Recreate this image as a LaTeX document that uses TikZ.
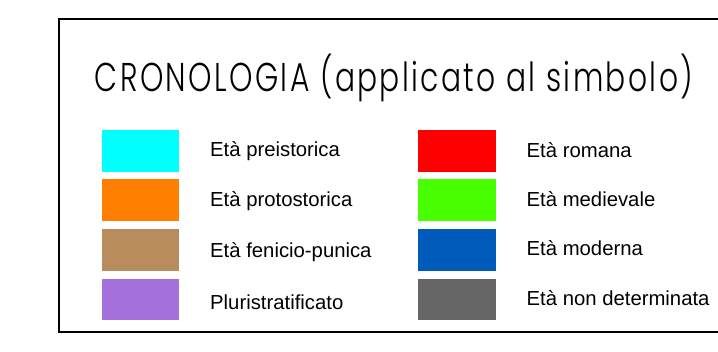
\documentclass[tikz,border=0pt]{standalone}
\usepackage{fontspec}
\setmainfont{Liberation Sans}
\newfontfamily\titlefont{Poppins Light}[LetterSpace=8]
\definecolor{cPre}{RGB}{0,255,255}
\definecolor{cProto}{RGB}{255,128,0}
\definecolor{cFen}{RGB}{185,140,94}
\definecolor{cPluri}{RGB}{164,112,220}
\definecolor{cRom}{RGB}{255,0,0}
\definecolor{cMed}{RGB}{72,255,0}
\definecolor{cMod}{RGB}{0,91,187}
\definecolor{cND}{RGB}{102,102,102}
\tikzset{
  swatch/.style={draw=none, inner sep=0pt, minimum width=77.5pt, minimum height=41.5pt},
  lbl/.style={anchor=west, inner sep=0pt, font=\fontsize{20.3}{24}\selectfont},
}
\begin{document}
\begin{tikzpicture}[x=1pt,y=-1pt]
\useasboundingbox (0,0) rectangle (718,352);
\fill[white] (0,0) rectangle (718,352);
\draw[line width=1.8pt] (725,19) -- (59,19) -- (59,332) -- (725,332);
\node[inner sep=0pt] (title) at (394,78) {\scalebox{1}[1.35]{\resizebox{598pt}{!}{\titlefont CRONOLOGIA (applicato al simbolo)}}};
% left column
\node[swatch, fill=cPre]   (s1) at (140.5,151) {};
\node[swatch, fill=cProto] (s2) at (140.5,200) {};
\node[swatch, fill=cFen]   (s3) at (140.5,250) {};
\node[swatch, fill=cPluri] (s4) at (140.5,299.5) {};
\node[lbl] (t1) at (210,151) {Età preistorica};
\node[lbl] (t2) at (210,201) {Età protostorica};
\node[lbl] (t3) at (210,252) {Età fenicio-punica};
\node[lbl] (t4) at (210,302) {Pluristratificato};
% right column
\node[swatch, fill=cRom] (s5) at (457,151) {};
\node[swatch, fill=cMed] (s6) at (457,200) {};
\node[swatch, fill=cMod] (s7) at (457,250) {};
\node[swatch, fill=cND]  (s8) at (457,299.5) {};
\node[lbl] (t5) at (526.5,150) {Età romana};
\node[lbl] (t6) at (526.5,199) {Età medievale};
\node[lbl] (t7) at (526.5,248) {Età moderna};
\node[lbl] (t8) at (526.5,298) {Età non determinata};
\end{tikzpicture}
\end{document}
